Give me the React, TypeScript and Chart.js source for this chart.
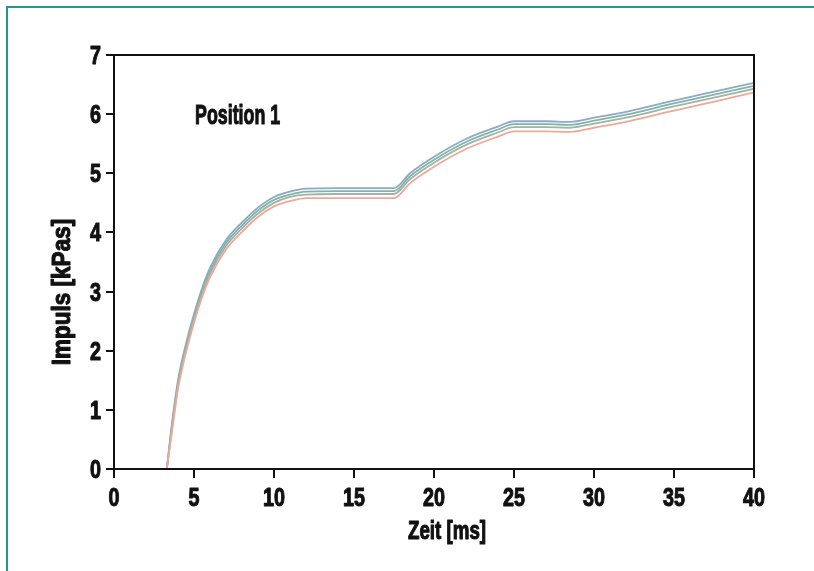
import React, { useEffect, useRef } from "react";
import { Chart, registerables } from "chart.js";

Chart.register(...registerables);

const timeMs = [3.3, 3.6, 4.0, 4.5, 5.0, 5.5, 6.0, 7.0, 8.0, 9.0, 10.0, 11.0, 12.0, 14.0, 16.0, 17.5, 18.5, 20.0, 22.0, 24.0, 25.0, 27.0, 28.5, 30.0, 32.0, 35.0, 38.0, 40.0];

const impulsA = [0, 0.72, 1.5, 2.12, 2.62, 3.05, 3.4, 3.87, 4.17, 4.42, 4.6, 4.69, 4.74, 4.75, 4.75, 4.75, 5.0, 5.28, 5.58, 5.79, 5.88, 5.88, 5.87, 5.94, 6.04, 6.23, 6.41, 6.53];
const impulsB = [0, 0.68, 1.45, 2.07, 2.57, 3.0, 3.35, 3.82, 4.12, 4.37, 4.55, 4.64, 4.69, 4.7, 4.7, 4.7, 4.95, 5.23, 5.53, 5.74, 5.83, 5.83, 5.82, 5.89, 5.99, 6.18, 6.36, 6.48];
const impulsC = [0, 0.64, 1.41, 2.03, 2.53, 2.96, 3.3, 3.77, 4.07, 4.32, 4.5, 4.6, 4.64, 4.65, 4.65, 4.65, 4.9, 5.18, 5.48, 5.69, 5.78, 5.78, 5.77, 5.84, 5.94, 6.13, 6.31, 6.43];
const impulsD = [0, 0.58, 1.35, 1.97, 2.47, 2.9, 3.24, 3.71, 4.01, 4.26, 4.44, 4.53, 4.58, 4.58, 4.58, 4.58, 4.83, 5.11, 5.41, 5.62, 5.71, 5.71, 5.7, 5.77, 5.87, 6.06, 6.24, 6.37];

const seriesColors = ["#8ea8c8", "#7fb5a6", "#9fb3a8", "#eea898"];

const xTitle = "Zeit [ms]";
const yTitle = "Impuls [kPas]";
const annotation = "Position 1";

const FONT = "'Liberation Sans', Arial, sans-serif";

export default function App() {
  const ref = useRef<HTMLCanvasElement | null>(null);

  useEffect(() => {
    const canvas = ref.current;
    if (!canvas) return;
    const series = [impulsD, impulsC, impulsB, impulsA];
    const colors = [seriesColors[3], seriesColors[2], seriesColors[1], seriesColors[0]];

    const drawText = (ctx: any, text: string, x: number, y: number, size: number, sx: number, align: string, rot = 0) => {
      ctx.save();
      ctx.font = `bold ${size}px ${FONT}`;
      ctx.translate(x, y);
      if (rot) ctx.rotate(rot);
      ctx.scale(sx, 1);
      ctx.textAlign = align;
      ctx.textBaseline = "alphabetic";
      ctx.fillStyle = "#111";
      ctx.strokeStyle = "#111";
      ctx.lineWidth = 1.1;
      ctx.lineJoin = "round";
      ctx.fillText(text, 0, 0);
      ctx.strokeText(text, 0, 0);
      ctx.restore();
    };

    const textPlugin = {
      id: "texts",
      afterDraw(chart: any) {
        const ctx = chart.ctx;
        const { left, top, right, bottom } = chart.chartArea;
        ctx.save();
        ctx.strokeStyle = "#111";
        ctx.lineWidth = 2;
        ctx.strokeRect(left, top, right - left, bottom - top);
        const xs = chart.scales.x;
        xs.ticks.forEach((t: any) => {
          drawText(ctx, String(t.value), xs.getPixelForValue(t.value), 506, 26, 0.76, "center");
        });
        const ys = chart.scales.y;
        ys.ticks.forEach((t: any) => {
          drawText(ctx, String(t.value), 101, ys.getPixelForValue(t.value) + 9, 26, 0.76, "right");
        });
        drawText(ctx, annotation, 195, 124, 27, 0.66, "left");
        drawText(ctx, xTitle, 447, 539, 25, 0.75, "center");
        drawText(ctx, yTitle, 70, 292, 25, 0.9, "center", -Math.PI / 2);
        ctx.restore();
      },
    };

    const chart = new Chart(canvas, {
      type: "line",
      data: {
        datasets: series.map((s, i) => ({
          data: s.map((v, j) => ({ x: timeMs[j], y: v })),
          borderColor: colors[i],
          borderWidth: 1.8,
          pointRadius: 0,
          fill: false,
          cubicInterpolationMode: "monotone" as const,
        })),
      },
      options: {
        responsive: false,
        animation: false,
        layout: { padding: { top: 55, right: 60, left: 0, bottom: 0 } },
        plugins: { legend: { display: false }, tooltip: { enabled: false } },
        scales: {
          x: {
            type: "linear",
            min: 0,
            max: 40,
            afterFit(scale: any) {
              scale.height = 102;
            },
            ticks: { stepSize: 5, display: false },
            grid: { drawOnChartArea: false, drawTicks: true, tickLength: 9, color: "#111", lineWidth: 2 },
            border: { display: true, color: "#111", width: 2 },
          },
          y: {
            type: "linear",
            min: 0,
            max: 7,
            afterFit(scale: any) {
              scale.width = 114;
            },
            ticks: { stepSize: 1, display: false },
            grid: { drawOnChartArea: false, drawTicks: true, tickLength: 8, color: "#111", lineWidth: 2 },
            border: { display: true, color: "#111", width: 2 },
          },
        },
      },
      plugins: [textPlugin],
    } as any);
    return () => chart.destroy();
  }, []);

  return (
    <div style={{ position: "fixed", left: 0, top: 0, width: 814, height: 571, background: "#fff" }}>
      <canvas ref={ref} width={814} height={571} style={{ position: "absolute", left: 0, top: 0 }} />
      <div
        style={{
          position: "absolute",
          left: 6,
          top: 6,
          right: 0,
          bottom: 0,
          borderTop: "2px solid #1f9a8a",
          borderLeft: "2px solid #1f9a8a",
        }}
      />
    </div>
  );
}
